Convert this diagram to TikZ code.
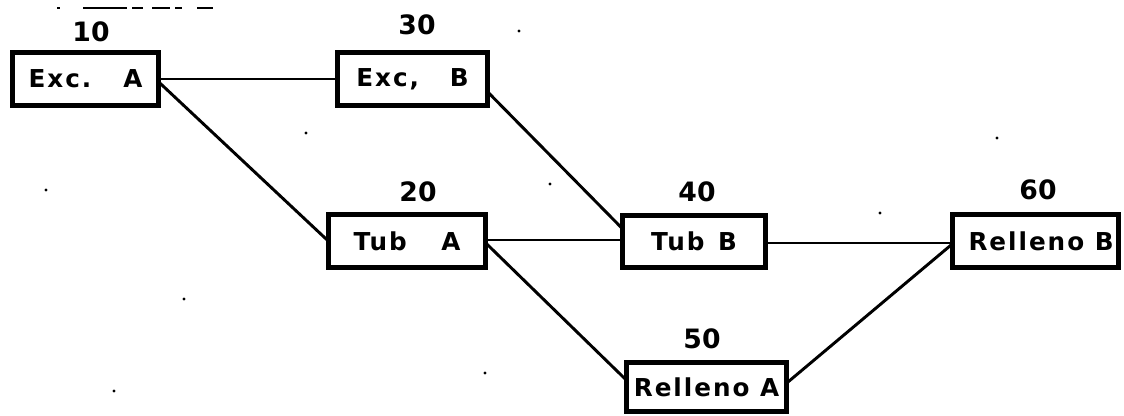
\documentclass[tikz,border=0pt]{standalone}
\usepackage{fontspec}
\setmainfont{DejaVu Sans}
\newfontfamily\boxfont[LetterSpace=8]{DejaVu Sans}
\usetikzlibrary{calc}
\tikzset{
  actbox/.style={draw=black, line width=3.6pt, rectangle, inner sep=0pt, outer sep=0pt,
    font=\boxfont\bfseries\fontsize{18.5}{20}\selectfont, text=black},
  numlbl/.style={inner sep=0pt, font=\bfseries\fontsize{20}{22}\selectfont, text=black},
  link/.style={draw=black, line width=2.2pt, line cap=round},
  noise/.style={draw=black, line width=1.5pt},
  speck/.style={fill=black, draw=none}
}
\begin{document}
\begin{tikzpicture}[x=0.75pt,y=-0.75pt]
\useasboundingbox (0,0) rectangle (1124,415);
% boxes
\node[actbox, minimum width={146.5*0.75pt}, minimum height={53.5*0.75pt}] (exca) at (85.5,79) {Exc.\hspace{1.3em}A\hspace{0.25em}};
\node[actbox, minimum width={150.5*0.75pt}, minimum height={53.5*0.75pt}] (excb) at (412.5,79) {Exc,\hspace{1.25em}B};
\node[actbox, minimum width={157.5*0.75pt}, minimum height={53.5*0.75pt}] (tuba) at (407,241) {Tub\hspace{1.4em}A};
\node[actbox, minimum width={143.5*0.75pt}, minimum height={52.5*0.75pt}] (tubb) at (694,241.5) {Tub\hspace{0.55em}B\hspace{0.25em}};
\node[actbox, minimum width={160.5*0.75pt}, minimum height={49.5*0.75pt}] (rella) at (706.5,387) {Relleno A};
\node[actbox, minimum width={166.5*0.75pt}, minimum height={53.5*0.75pt}] (rellb) at (1035.5,241) {\hspace{0.45em}Relleno B};
% numbers
\node[numlbl] (n10) at (91,32) {10};
\node[numlbl] (n30) at (417,25) {30};
\node[numlbl] (n20) at (418,192) {20};
\node[numlbl] (n40) at (697,192) {40};
\node[numlbl] (n50) at (702,339) {50};
\node[numlbl] (n60) at (1038,190) {60};
% connectors
\draw[link] (exca.east) -- (excb.west);
\draw[link] ($(exca.east)+(0,3)$) -- (tuba.west);
\draw[link] ($(excb.east)+(0,13)$) -- ($(tubb.west)+(0,-13)$);
\draw[link] ($(tuba.east)+(0,-1)$) -- ($(tubb.west)+(0,-1.5)$);
\draw[link] ($(tuba.east)+(0,2)$) -- ($(rella.west)+(0,-7)$);
\draw[link] ($(tubb.east)+(0,1.5)$) -- ($(rellb.west)+(0,2)$);
\draw[link] ($(rella.east)+(0,-4)$) -- ($(rellb.west)+(0,3)$);
% scan specks along the top
\draw[noise] (57,8) -- (60,8) (83,8) -- (127,8) (132,8) -- (143,8)
  (152,8) -- (170,8) (175,8) -- (182,8) (197,8) -- (213,8);
\foreach \p in {(46,190),(306,133),(184,299),(114,391),(519,31),(550,184),(997,138),(485,373),(880,213)}
  \fill[speck] \p circle (1.6);
\end{tikzpicture}
\end{document}
